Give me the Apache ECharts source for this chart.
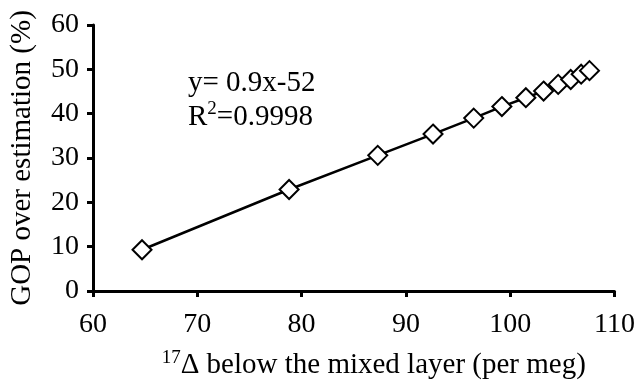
<!DOCTYPE html>
<html>
<head>
<meta charset="utf-8">
<script src="https://cdn.jsdelivr.net/npm/echarts@6/dist/echarts.min.js"></script>
<style>
  html, body { margin: 0; padding: 0; background: #fff; }
  #chart { width: 638px; height: 385px; }
</style>
</head>
<body>
<div id="chart"></div>
<script>
// 17Δ below the mixed layer (per meg)
var deltaValues = [64.7, 78.8, 87.3, 92.6, 96.5, 99.2, 101.5, 103.2, 104.6, 105.8, 106.8, 107.6];
// GOP over estimation (%)
var gopValues = [9.3, 22.9, 30.6, 35.4, 39.0, 41.6, 43.6, 45.1, 46.6, 47.7, 48.9, 49.7];
var xTicks = [60, 70, 80, 90, 100, 110];
var yTicks = [0, 10, 20, 30, 40, 50, 60];
var fitLines = ['y= 0.9x-52', 'R{sup|2}=0.9998'];

var font = 'Liberation Serif';
var fs = 28;

var points = [];
for (var i = 0; i < deltaValues.length; i++) {
  points.push([deltaValues[i], gopValues[i]]);
}

var chart = echarts.init(document.getElementById('chart'), null, { renderer: 'canvas' });

var option = {
  animation: false,
  backgroundColor: '#fff',
  textStyle: { fontFamily: font, color: '#000' },
  grid: { left: 92, right: 22, top: 25, bottom: 89, containLabel: false },
  xAxis: {
    type: 'value',
    min: xTicks[0],
    max: xTicks[xTicks.length - 1],
    interval: 10,
    axisLine: { onZero: false, lineStyle: { color: '#000', width: 3 } },
    axisTick: { show: true, inside: false, length: 6, lineStyle: { color: '#000', width: 3 } },
    axisLabel: { color: '#000', fontFamily: font, fontSize: fs, margin: 20 },
    splitLine: { show: false },
    name: '{sup|17}Δ below the mixed layer (per meg)',
    nameLocation: 'middle',
    nameGap: 58,
    nameTextStyle: {
      color: '#000', fontFamily: font, fontSize: 29,
      padding: [0, 0, 0, 40],
      rich: {
        sup: { fontFamily: font, fontSize: 19, verticalAlign: 'top', padding: [0, 0, 14, 0], color: '#000' }
      }
    }
  },
  yAxis: {
    type: 'value',
    min: yTicks[0],
    max: yTicks[yTicks.length - 1],
    interval: 10,
    axisLine: { onZero: false, lineStyle: { color: '#000', width: 3 } },
    axisTick: { show: true, inside: false, length: 6, lineStyle: { color: '#000', width: 3 } },
    axisLabel: { color: '#000', fontFamily: font, fontSize: fs, margin: 14 },
    splitLine: { show: false },
    name: 'GOP over estimation (%)',
    nameLocation: 'middle',
    nameGap: 56,
    nameTextStyle: { color: '#000', fontFamily: font, fontSize: 29 }
  },
  graphic: [
    {
      type: 'text',
      left: 188,
      top: 66,
      style: {
        text: fitLines.join('\n'),
        fill: '#000',
        font: '29px "' + font + '"',
        lineHeight: 34,
        rich: {
          sup: { fontFamily: font, fontSize: 19, verticalAlign: 'top', fill: '#000', lineHeight: 34 }
        }
      }
    }
  ],
  series: [{
    type: 'line',
    data: points,
    symbol: 'diamond',
    symbolSize: 19,
    showAllSymbol: true,
    lineStyle: { color: '#000', width: 2.5 },
    itemStyle: { color: '#fff', borderColor: '#000', borderWidth: 2 }
  }]
};

chart.setOption(option);
</script>
</body>
</html>
